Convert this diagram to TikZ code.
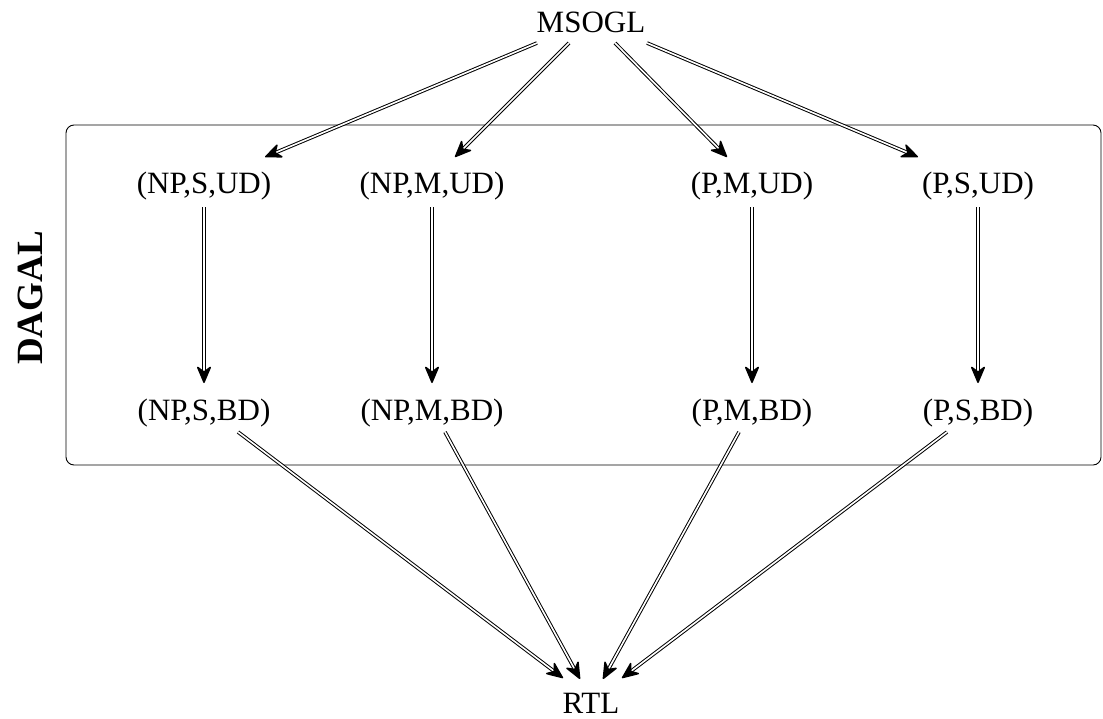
\documentclass[tikz,border=0pt]{standalone}
\usepackage{fontspec}
\setmainfont{Liberation Serif}
\usetikzlibrary{arrows.meta,calc}
\newcommand\myarr[2]{%
  \draw[dblline] #1 -- #2;
  \draw[tipline] #1 -- #2;}
\begin{document}
\begin{tikzpicture}[x=1pt,y=-1pt,
  lbl/.style={anchor=base,inner sep=0pt,font=\fontsize{31}{31}\selectfont},
  dblline/.style={double,double distance=1.6pt,line width=1pt,shorten >=11pt},
  tipline/.style={white,line width=0.6pt,
    -{Stealth[length=19pt,width=16pt,inset=6pt,color=black,fill=black,line width=1.5pt,round]}},
  grp/.style={draw,line width=0.9pt,rounded corners=8pt,inner sep=0pt}]
\useasboundingbox (0,0) rectangle (1103,718);
\node[grp,minimum width=1035pt,minimum height=340pt] (box) at (583.5,295) {};
\node[rotate=90,inner sep=0pt,font=\fontsize{37}{37}\selectfont\bfseries] (dagal) at (30,298) {DAGAL};
\node[lbl] (msogl) at (591,32) {MSOGL};
\node[lbl] (a1) at (204,193) {(NP,S,UD)};
\node[lbl] (a2) at (432,193) {(NP,M,UD)};
\node[lbl] (a3) at (752,193) {(P,M,UD)};
\node[lbl] (a4) at (978,193) {(P,S,UD)};
\node[lbl] (b1) at (204,420) {(NP,S,BD)};
\node[lbl] (b2) at (432,420) {(NP,M,BD)};
\node[lbl] (b3) at (752,420) {(P,M,BD)};
\node[lbl] (b4) at (978,420) {(P,S,BD)};
\node[lbl] (rtl) at (591,713) {RTL};
\myarr{($(msogl.base)+(-54,11)$)}{($(a1.base)+(61,-36)$)}
\myarr{($(msogl.base)+(-22,11)$)}{($(a2.base)+(23,-36)$)}
\myarr{($(msogl.base)+(24,11)$)}{($(a3.base)+(-25,-36)$)}
\myarr{($(msogl.base)+(56,11)$)}{($(a4.base)+(-60,-36)$)}
\myarr{($(a1.base)+(0,14)$)}{($(b1.base)+(0,-37)$)}
\myarr{($(a2.base)+(0,14)$)}{($(b2.base)+(0,-37)$)}
\myarr{($(a3.base)+(0,14)$)}{($(b3.base)+(0,-37)$)}
\myarr{($(a4.base)+(0,14)$)}{($(b4.base)+(0,-37)$)}
\myarr{($(b1.base)+(34,12)$)}{($(rtl.base)+(-28,-35)$)}
\myarr{($(b2.base)+(13,12)$)}{($(rtl.base)+(-11,-34)$)}
\myarr{($(b3.base)+(-13,12)$)}{($(rtl.base)+(12,-34)$)}
\myarr{($(b4.base)+(-31,12)$)}{($(rtl.base)+(31,-35)$)}
\end{tikzpicture}
\end{document}
